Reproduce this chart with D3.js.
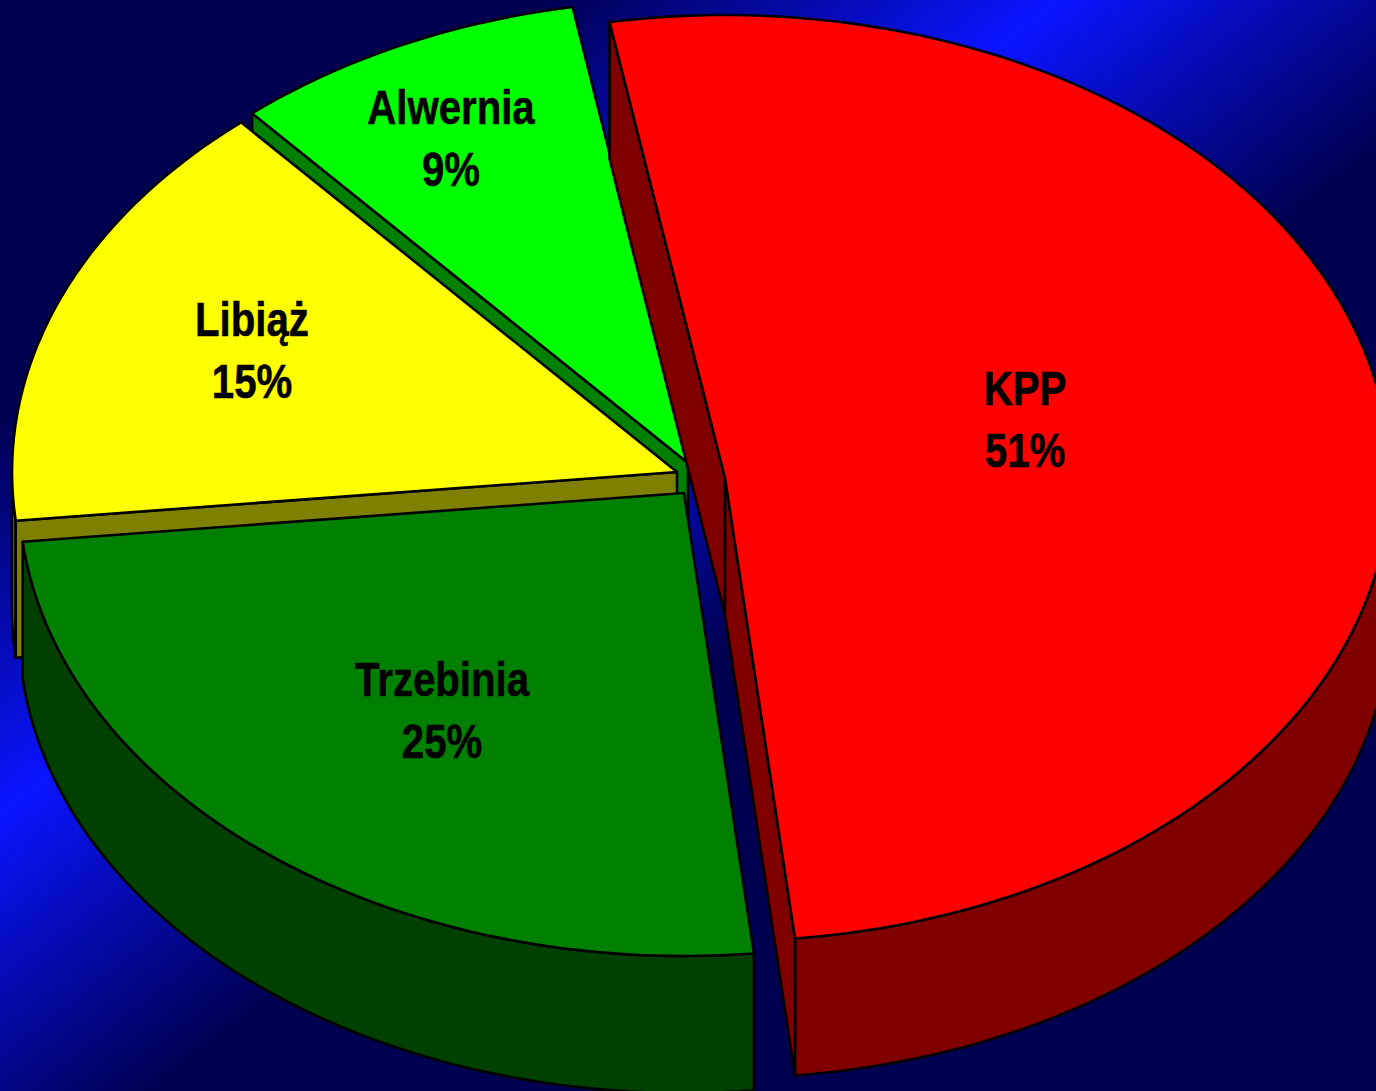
<!DOCTYPE html>
<html>
<head>
<meta charset="utf-8">
<script src="https://cdn.jsdelivr.net/npm/d3@7"></script>
<style>
    html, body { margin: 0; padding: 0; background: #000050; overflow: hidden; }
    svg { display: block; }
</style>
</head>
<body>
<div id="chart"></div>
<script>
// data
const names = ['KPP', 'Trzebinia', 'Libiąż', 'Alwernia'];
const shares = [51.1, 25, 15.3, 8.6];

// colours per slice
const topColors = ['#ff0000', '#008000', '#ffff00', '#00ff00'];
const sideColors = ['#800000', '#004000', '#808000', '#008000'];

// exploded slices: where each tip sits, and where its label sits relative to the tip
const tips = [[725, 478], [684, 493], [677, 472], [688, 463]];
const labelOffsets = [[300, -73], [-242, 203], [-425, -136], [-237, -339]];

const width = 1376, height = 1091;
const rx = 665, ry = 463, depth = 137;
const toRad = Math.PI / 180;

const svg = d3.select('#chart').append('svg')
    .attr('width', width)
    .attr('height', height);

// Background band
const grad = svg.append('defs').append('linearGradient')
    .attr('id', 'bg')
    .attr('gradientUnits', 'userSpaceOnUse')
    .attr('x1', 201).attr('y1', 262)
    .attr('x2', 584).attr('y2', 761);
grad.selectAll('stop')
    .data([[0, '#000050'], [0.5, '#0a14ff'], [1, '#000050']])
    .join('stop')
    .attr('offset', d => d[0])
    .attr('stop-color', d => d[1]);

svg.append('rect')
    .attr('width', width)
    .attr('height', height)
    .attr('fill', 'url(#bg)');

const pie = d3.pie()
    .sort(null)
    .startAngle(-10 * toRad)
    .endAngle(350 * toRad);

const arcs = pie(shares);
const total = d3.sum(shares);

const line = d3.line();

function rimPoints(tip, a0, a1) {
    const n = Math.max(2, Math.ceil((a1 - a0) / (1.5 * toRad)));
    return d3.range(n + 1).map(i => {
        const a = a0 + (a1 - a0) * i / n;
        return [tip[0] + rx * Math.sin(a), tip[1] - ry * Math.cos(a)];
    });
}

function drawFace(pts, fill) {
    svg.append('path')
        .attr('d', line(pts) + 'Z')
        .attr('fill', fill)
        .attr('stroke', '#000')
        .attr('stroke-width', 2.6)
        .attr('stroke-linejoin', 'round');
}

function down(p) {
    return [p[0], p[1] + depth];
}

// back slices first, KPP last
[3, 2, 1, 0].forEach(i => {
    const d = arcs[i];
    const tip = tips[i];
    const rim = rimPoints(tip, d.startAngle, d.endAngle);

    // Outer wall, only the part facing the viewer
    const a0 = Math.max(d.startAngle, 90 * toRad);
    const a1 = Math.min(d.endAngle, 270 * toRad);
    if (a1 > a0) {
        const wall = rimPoints(tip, a0, a1);
        drawFace(wall.concat(wall.slice().reverse().map(down)), sideColors[i]);
    }

    // Cut walls
    const first = rim[0], last = rim[rim.length - 1];
    if (i === 0) {
        drawFace([first, tip, down(tip), down(first)], sideColors[i]);
        drawFace([tip, last, down(last), down(tip)], sideColors[i]);
    }
    if (i === 2 || i === 3) {
        drawFace([first, tip, down(tip), down(first)], sideColors[i]);
    }

    // Top
    drawFace([tip].concat(rim), topColors[i]);
});

// Labels, the reference type is a squeezed bold Arial
names.forEach((name, i) => {
    const x = tips[i][0] + labelOffsets[i][0];
    const y = tips[i][1] + labelOffsets[i][1];
    const label = svg.append('text')
        .attr('transform', `translate(${x},${y}) scale(0.82,1)`)
        .attr('text-anchor', 'middle')
        .attr('font-family', '"Liberation Sans", Arial, sans-serif')
        .attr('font-weight', 'bold')
        .attr('font-size', 49)
        .attr('fill', '#000')
        .attr('stroke', '#000')
        .attr('stroke-width', 0.6);
    label.append('tspan').attr('x', 0).attr('y', 0).text(name);
    label.append('tspan').attr('x', 0).attr('y', 62.5).text(Math.round(shares[i] / total * 100) + '%');
});
</script>
</body>
</html>
